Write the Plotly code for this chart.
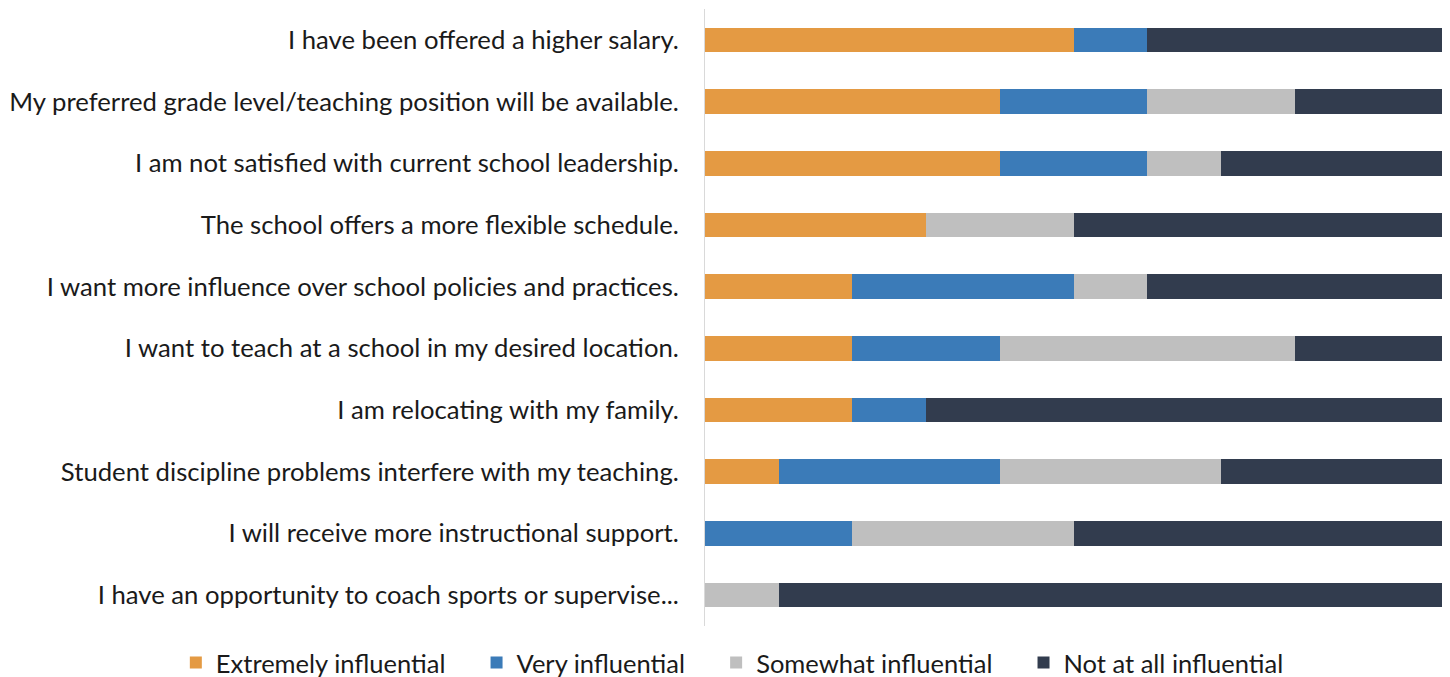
import plotly.graph_objects as go

categories = [
    "I have been offered a higher salary.",
    "My preferred grade level/teaching position will be available.",
    "I am not satisfied with current school leadership.",
    "The school offers a more flexible schedule.",
    "I want more influence over school policies and practices.",
    "I want to teach at a school in my desired location.",
    "I am relocating with my family.",
    "Student discipline problems interfere with my teaching.",
    "I will receive more instructional support.",
    "I have an opportunity to coach sports or supervise...",
]
extremely = [50, 40, 40, 30, 20, 20, 20, 10, 0, 0]
very = [10, 20, 20, 0, 30, 20, 10, 30, 20, 0]
somewhat = [0, 20, 10, 20, 10, 40, 0, 30, 30, 10]
not_at_all = [40, 20, 30, 50, 40, 20, 70, 30, 50, 90]
series_names = ["Extremely influential", "Very influential",
                "Somewhat influential", "Not at all influential"]
colors = ["#E49A43", "#3B7BB8", "#BFBFBF", "#323C4E"]

PAD = "\u00a0" * 4  # extra spacing between legend entries

fig = go.Figure()
for i, (name, vals, color) in enumerate(zip(series_names,
                                             [extremely, very, somewhat, not_at_all],
                                             colors)):
    label = name + (PAD if i < len(series_names) - 1 else "")
    fig.add_trace(go.Bar(
        y=categories, x=vals, name=label, orientation="h",
        marker=dict(color=color, line=dict(width=0)),
        hovertemplate=name + ": %{x}%<extra></extra>",
    ))

# page body has an 8px margin, so the figure is offset by 8px right/down
fig.update_layout(
    barmode="stack",
    bargap=0.6,
    width=1450, height=677,
    margin=dict(l=697, r=16, t=1, b=59, autoexpand=False),
    paper_bgcolor="white", plot_bgcolor="white",
    font=dict(family="Lato, Carlito, Calibri, sans-serif", size=25.7, color="#1a1a1a"),
    xaxis=dict(range=[0, 100], showticklabels=False, showgrid=False, zeroline=False,
               showline=False, fixedrange=True),
    yaxis=dict(autorange="reversed", showline=True, linecolor="#D9D9D9", linewidth=1,
               ticks="", ticklabelstandoff=20, showgrid=False, tickfont=dict(size=25.7)),
    legend=dict(orientation="h", x=-0.718, xanchor="left",
                y=-0.06, yanchor="middle",
                font=dict(size=25.5), traceorder="normal", itemwidth=30),
)

fig.write_html("out.html")
